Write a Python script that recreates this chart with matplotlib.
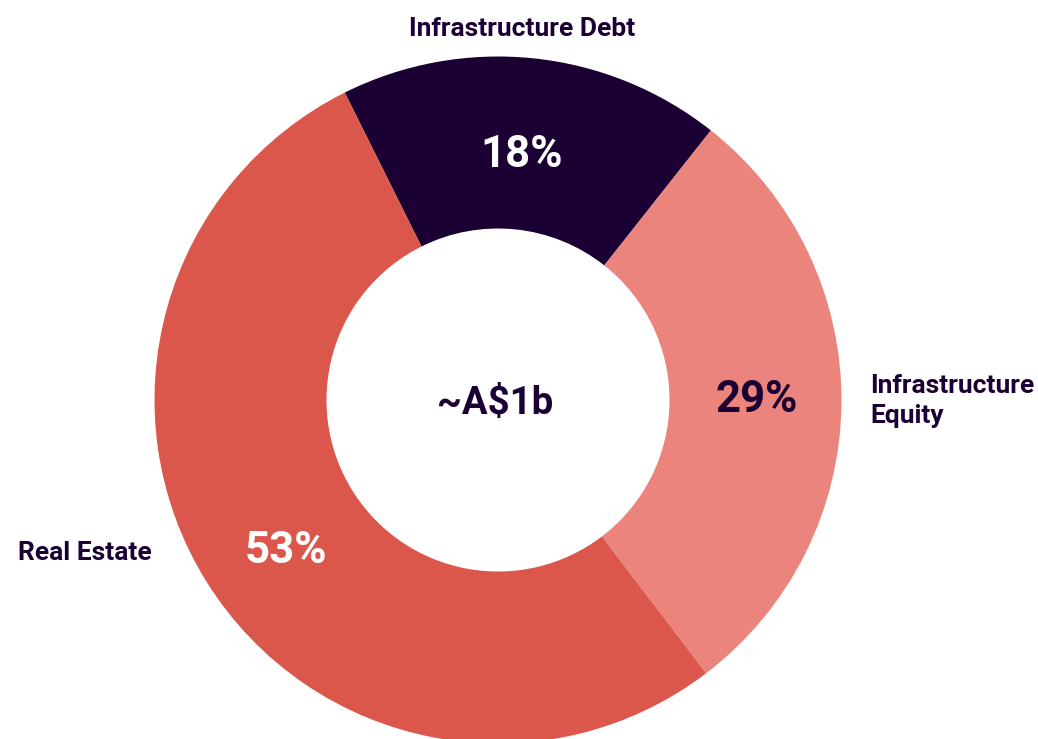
import matplotlib.pyplot as plt

labels = ["Infrastructure Debt", "Infrastructure\nEquity", "Real Estate"]
shares = [18, 29, 53]
pct_labels = ["18%", "29%", "53%"]
center_label = "~A$1b"

dark = "#1b0033"
colors = [dark, "#eb847d", "#dc574b"]
pct_colors = ["white", dark, "white"]

plt.rcParams["font.family"] = ["Roboto", "DejaVu Sans"]

fig = plt.figure(figsize=(10.38, 7.39), dpi=100)
ax = fig.add_axes([0, 0, 1, 1])

ax.pie(shares, colors=colors, startangle=116.5, counterclock=False,
       center=(498, 339), radius=343.5, frame=True,
       wedgeprops=dict(width=172, linewidth=0))
ax.set_xlim(0, 1038)
ax.set_ylim(0, 739)
ax.axis("off")

# category labels
ax.text(522, 710, labels[0], ha="center", va="center", fontsize=19,
        fontweight="bold", color=dark)
ax.text(870, 338, labels[1], ha="left", va="center", fontsize=19,
        fontweight="bold", color=dark, linespacing=1.35)
ax.text(18, 186, labels[2], ha="left", va="center", fontsize=19,
        fontweight="bold", color=dark)

# percentages
pct_pos = [(522, 584), (757, 339), (286, 188)]
for (x, y), t, c in zip(pct_pos, pct_labels, pct_colors):
    ax.text(x, y, t, ha="center", va="center", fontsize=31.5,
            fontweight="bold", color=c)

ax.text(495, 336, center_label, ha="center", va="center", fontsize=27.5,
        fontweight="bold", color=dark)

fig.savefig("out.png", dpi=100)
